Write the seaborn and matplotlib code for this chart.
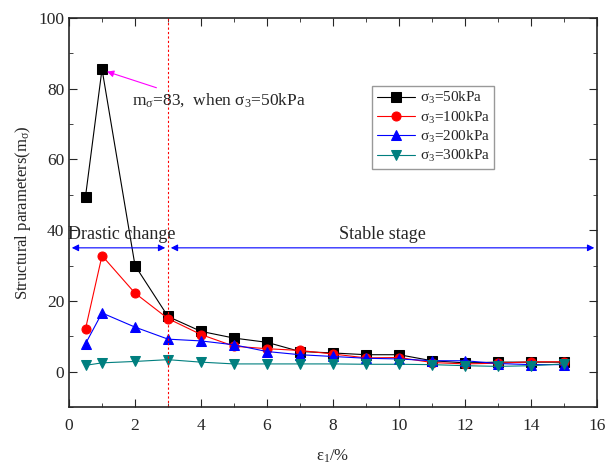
import numpy as np
import pandas as pd
import matplotlib
matplotlib.use('Agg')
import matplotlib.pyplot as plt
import seaborn as sns

strain = [0.5, 1, 2, 3, 4, 5, 6, 7, 8, 9, 10, 11, 12, 13, 14, 15]
m_50 = [49.5, 85.5, 30.0, 15.6, 11.4, 9.5, 8.3, 5.7, 5.3, 4.8, 4.8, 3.1, 2.5, 2.7, 2.7, 2.7]
m_100 = [12.1, 32.8, 22.2, 15.0, 10.5, 7.2, 6.5, 6.0, 5.0, 3.9, 4.0, 2.6, 2.2, 2.4, 2.8, 2.8]
m_200 = [7.9, 16.6, 12.6, 9.2, 8.7, 7.6, 5.7, 4.8, 4.3, 3.8, 3.6, 3.1, 3.1, 2.3, 2.0, 2.0]
m_300 = [1.8, 2.5, 2.9, 3.4, 2.7, 2.2, 2.2, 2.2, 2.2, 2.1, 2.1, 2.0, 1.7, 1.5, 1.7, 2.2]

labels = [r'$\sigma_3$=50kPa', r'$\sigma_3$=100kPa', r'$\sigma_3$=200kPa', r'$\sigma_3$=300kPa']
colors = ['black', 'red', 'blue', '#007f7f']
markers = ['s', 'o', '^', 'v']

sns.set_style('ticks')
plt.rcParams['font.family'] = ['Liberation Serif', 'DejaVu Serif']
plt.rcParams['mathtext.fontset'] = 'custom'
plt.rcParams['mathtext.rm'] = 'Liberation Serif'
plt.rcParams['mathtext.it'] = 'Liberation Serif'
plt.rcParams['mathtext.default'] = 'rm'

fig = plt.figure(figsize=(6.08, 4.69), dpi=100)
ax = fig.add_axes([0.1135, 0.132, 0.8685, 0.83])

for vals, lab, c, mk in zip([m_50, m_100, m_200, m_300], labels, colors, markers):
    sns.lineplot(x=strain, y=vals, ax=ax, color=c, marker=mk, markersize=6.5,
                 markeredgecolor=c, linewidth=0.8, label=lab)

ax.set_xlim(0, 16)
ax.set_ylim(-10, 100)
ax.set_xticks(np.arange(0, 17, 2))
ax.set_xticks(np.arange(1, 16, 2), minor=True)
ax.set_yticks(np.arange(0, 101, 20))
ax.set_yticks(np.arange(-10, 100, 10), minor=True)
ax.tick_params(which='both', direction='in', top=True, right=True, labelsize=12.5)
ax.tick_params(axis='x', pad=8)
ax.tick_params(which='major', length=6)
ax.tick_params(which='minor', length=3)
for s in ax.spines.values():
    s.set_linewidth(1.2)

ax.set_xlabel(r'$\varepsilon_1$/%', fontsize=12, labelpad=10)
ax.set_ylabel(r'Structural parameters(m$_\sigma$)', fontsize=12)

ax.axvline(3, color='red', linestyle=(0, (2, 2)), linewidth=0.8)

ax.annotate('', xy=(0, 35), xytext=(3, 35),
            arrowprops=dict(arrowstyle='<|-|>', color='blue', lw=0.8, mutation_scale=10))
ax.annotate('', xy=(3, 35), xytext=(16, 35),
            arrowprops=dict(arrowstyle='<|-|>', color='blue', lw=0.8, mutation_scale=10))
ax.text(1.6, 38.8, 'Drastic change', fontsize=13, ha='center', va='center')
ax.text(9.5, 38.8, 'Stable stage', fontsize=13, ha='center', va='center')

ax.annotate(r'm$_\sigma$=83,  when $\sigma_3$=50kPa', xy=(1.15, 84.8), xytext=(1.9, 76.8),
            fontsize=12.5, va='center',
            arrowprops=dict(arrowstyle='-|>', color='magenta', lw=0.8, shrinkA=0, shrinkB=0,
                            mutation_scale=10, relpos=(0.2, 1.0)))

leg = ax.legend(loc='upper left', bbox_to_anchor=(0.56, 0.845), fontsize=11, frameon=True,
                fancybox=False, edgecolor='gray', handlelength=2.5, borderpad=0.3,
                labelspacing=0.2, handletextpad=0.3)
leg.get_frame().set_linewidth(1.0)

fig.savefig('out.png', dpi=100)
